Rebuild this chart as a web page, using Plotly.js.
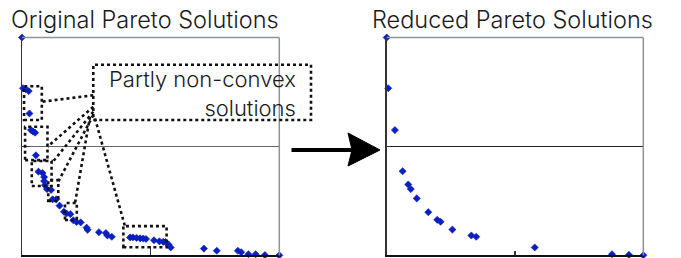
<!DOCTYPE html>
<html>
<head>
<meta charset="utf-8">
<script src="https://cdn.plot.ly/plotly-3.0.1.min.js"></script>
<style>html,body{margin:0;padding:0;background:#fff;}#chart{width:681px;height:258px;}</style>
</head>
<body>
<div id="chart"></div>
<script>
// Original Pareto solutions (normalised objective values)
const origX = [0.000,0.004,0.014,0.026,0.029,0.035,0.043,0.051,0.054,0.064,0.080,0.086,0.086,0.089,0.097,0.113,0.119,0.133,0.146,0.163,0.173,0.188,0.199,0.212,0.228,0.251,0.255,0.299,0.326,0.332,0.349,0.420,0.431,0.445,0.459,0.471,0.482,0.513,0.534,0.549,0.558,0.569,0.578,0.707,0.757,0.839,0.852,0.880,0.908,0.944,1.000];
const origY = [1.000,0.767,0.763,0.754,0.651,0.575,0.568,0.563,0.459,0.384,0.378,0.359,0.341,0.322,0.304,0.300,0.257,0.257,0.228,0.200,0.192,0.189,0.161,0.153,0.151,0.127,0.117,0.106,0.102,0.091,0.085,0.082,0.082,0.080,0.078,0.077,0.075,0.069,0.064,0.062,0.061,0.050,0.036,0.031,0.021,0.021,0.014,0.005,0.005,0.001,0.000];
// Reduced Pareto solutions
const redX = [0.000,0.006,0.032,0.062,0.084,0.094,0.117,0.162,0.197,0.210,0.256,0.330,0.349,0.577,0.878,0.944,1.000];
const redY = [1.000,0.767,0.575,0.386,0.325,0.304,0.261,0.198,0.163,0.154,0.118,0.091,0.085,0.036,0.005,0.002,0.000];
const titles = ["Original Pareto Solutions", "Reduced Pareto Solutions"];
const noteText = "Partly non-convex<br>solutions";

const FONT = 'Inter, "Noto Sans", sans-serif';
const markerStyle = {symbol:'diamond', size:5.5, color:'#0a1fbf', line:{width:0.6, color:'#0a1fbf'}};

const traces = [
  {x: origX, y: origY, xaxis:'x', yaxis:'y', mode:'markers', marker: markerStyle, cliponaxis:false, hoverinfo:'skip'},
  {x: redX, y: redY, xaxis:'x2', yaxis:'y2', mode:'markers', marker: markerStyle, cliponaxis:false, hoverinfo:'skip'}
];

function ax(domain, anchor, tickvals, ticklen, gridcolor, gridwidth, isY){
  return {
    domain: domain, anchor: anchor, range:[0,1], fixedrange:true,
    showline:true, linecolor: isY ? '#333' : '#111', linewidth: isY ? 1.5 : 2,
    ticks:'inside', tickvals: tickvals, ticklen: ticklen, tickcolor:'#333', tickwidth:1.2,
    showticklabels:false, zeroline:false,
    showgrid: isY, gridcolor: gridcolor, gridwidth: gridwidth
  };
}

const W = 681, H = 258;
const px = v => v / W, py = v => 1 - v / H;
const xd1 = [px(22), px(279.3)], xd2 = [px(386.7), px(643.3)];
const yd = [py(255.3), py(37.5)];

const dot = {color:'#111', width:2.6, dash:'dot'};
function box(x0,y0,x1,y1){ return {type:'rect', xref:'x', yref:'y', x0:x0, y0:y0, x1:x1, y1:y1, line:dot, layer:'above'}; }
function seg(x0,y0,x1,y1){ return {type:'line', xref:'x', yref:'y', x0:x0, y0:y0, x1:x1, y1:y1, line:dot, layer:'above'}; }
function frame(xr, yr, color){
  return [
    {type:'line', xref:xr+' domain', yref:yr+' domain', x0:0, x1:1, y0:1, y1:1, line:{color:color, width:1.5}},
    {type:'line', xref:xr+' domain', yref:yr+' domain', x0:1, x1:1, y0:0, y1:1, line:{color:color, width:1.5}}
  ];
}

const shapes = [].concat(
  frame('x','y','#8a9696'), frame('x2','y2','#8a9696'),
  [
    // call-out box (extends beyond the plot area)
    {type:'rect', xref:'paper', yref:'paper', x0:px(93.3), x1:px(311), y0:py(120), y1:py(64.7), line:dot, layer:'above'},
    // small boxes round non-convex groups
    box(0.008,0.621,0.077,0.776),
    box(0.012,0.437,0.099,0.590),
    box(0.038,0.318,0.115,0.433),
    box(0.102,0.249,0.141,0.345),
    box(0.167,0.162,0.213,0.240),
    box(0.394,0.037,0.562,0.134),
    // leader lines
    seg(0.277,0.735,0.077,0.705),
    seg(0.277,0.682,0.099,0.498),
    seg(0.277,0.659,0.115,0.422),
    seg(0.277,0.644,0.141,0.338),
    seg(0.264,0.636,0.206,0.239),
    seg(0.284,0.628,0.400,0.134),
    // big arrow
    {type:'line', xref:'paper', yref:'paper', x0:px(291.5), x1:px(356), y0:py(150), y1:py(150), line:{color:'#000', width:4}},
    {type:'path', xref:'paper', yref:'paper',
     path:'M '+px(348)+','+py(133)+' L '+px(380)+','+py(150)+' L '+px(348)+','+py(166)+' L '+px(352)+','+py(150)+' Z',
     fillcolor:'#000', line:{color:'#000', width:1}}
  ]
);

const tfont = {family:FONT, size:23.5, color:'#1a1a1a', weight:300};
const nfont = {family:FONT, size:22, color:'#1a1a1a', weight:300};
const annotations = [
  {text: titles[0], xref:'paper', yref:'paper', x:px(145), y:py(19), xanchor:'center', yanchor:'middle', showarrow:false, font:tfont},
  {text: titles[1], xref:'paper', yref:'paper', x:px(512), y:py(19), xanchor:'center', yanchor:'middle', showarrow:false, font:tfont},
  {text: noteText, xref:'paper', yref:'paper', x:px(298), y:py(93), xanchor:'right', yanchor:'middle', align:'right', showarrow:false, font:nfont}
];

const layout = {
  width:W, height:H, margin:{l:0,r:0,t:0,b:0},
  paper_bgcolor:'#fff', plot_bgcolor:'#fff', showlegend:false,
  xaxis: ax(xd1,'y',[0.5],9,null,0,false),
  yaxis: ax(yd,'x',[0,0.5,1],8,'#666',1.5,true),
  xaxis2: ax(xd2,'y2',[0.5],4,null,0,false),
  yaxis2: ax(yd,'x2',[0,0.5,1],3,'#222',1.2,true),
  shapes: shapes, annotations: annotations
};

Plotly.newPlot('chart', traces, layout, {staticPlot:true, displayModeBar:false});
</script>
</body>
</html>
